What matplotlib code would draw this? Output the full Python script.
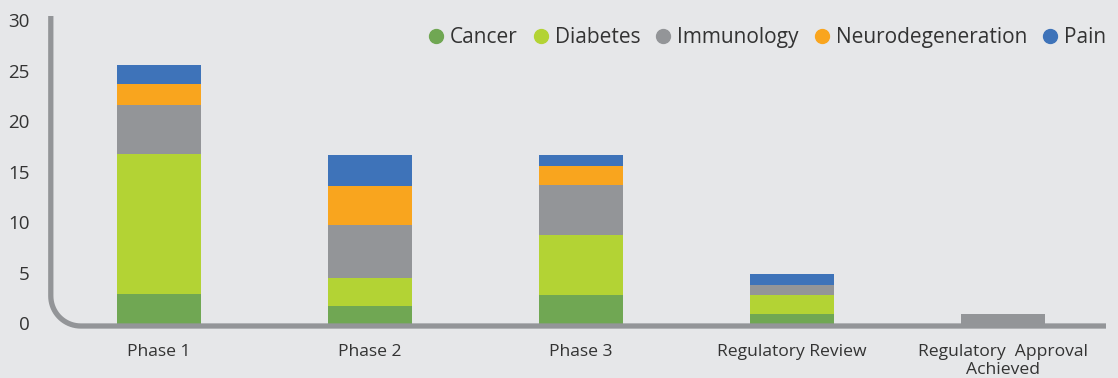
import numpy as np
import matplotlib
matplotlib.use("Agg")
import matplotlib.pyplot as plt
from matplotlib.lines import Line2D

categories = ["Phase 1", "Phase 2", "Phase 3", "Regulatory Review", "Regulatory  Approval\nAchieved"]
series_names = ["Cancer", "Diabetes", "Immunology", "Neurodegeneration", "Pain"]
cancer = [2.9, 1.7, 2.8, 0.95, 0.0]
diabetes = [13.9, 2.8, 5.9, 1.9, 0.0]
immunology = [4.8, 5.2, 5.0, 1.0, 0.95]
neuro = [2.1, 3.9, 1.9, 0.0, 0.0]
pain = [1.9, 3.1, 1.1, 1.0, 0.0]
yticks = [0, 5, 10, 15, 20, 25, 30]

colors = ["#70a753", "#b3d334", "#939598", "#f9a51e", "#3e73b9"]
bg = "#e6e7e9"
font = "Open Sans"

W, H = 1118, 378
fig = plt.figure(figsize=(W / 100, H / 100), dpi=100, facecolor=bg)
ax = fig.add_axes([53.5 / W, 1 - 323.5 / H, (1108.5 - 53.5) / W, (323.5 - 20) / H])
ax.set_facecolor(bg)

x = np.arange(len(categories))
bottom = np.zeros(len(categories))
for vals, c, name in zip([cancer, diabetes, immunology, neuro, pain], colors, series_names):
    ax.bar(x, vals, width=0.4, bottom=bottom, color=c, label=name, zorder=2)
    bottom += np.array(vals)

ax.set_xlim(-0.5, len(categories) - 0.5)
ax.set_ylim(0, 30)
ax.set_yticks(yticks)
ax.set_yticklabels([str(v) for v in yticks], fontsize=13.5, family=font, color="#333333")
ax.set_xticks(x)
ax.set_xticklabels(categories, fontsize=12.6, family=font, color="#333333", linespacing=1.2)
ax.tick_params(axis="y", length=0, pad=17)
ax.tick_params(axis="x", length=0, pad=14.5)
for s in ax.spines.values():
    s.set_visible(False)

# rounded axis line
r = 30
xl, yb = 50.8, 326
pts = [(xl, 16), (xl, yb - r)]
for t in np.linspace(np.pi, 1.5 * np.pi, 20):
    pts.append((xl + r + r * np.cos(t), yb - r - r * np.sin(t)))
pts.append((1106, yb))
px = [p[0] / W for p in pts]
py = [1 - p[1] / H for p in pts]
fig.add_artist(Line2D(px, py, transform=fig.transFigure, color="#939598", lw=3.8,
                      solid_capstyle="butt", zorder=5))

handles = [Line2D([], [], marker="o", ls="", markersize=10, markerfacecolor=c,
                  markeredgecolor=c) for c in colors]
leg = ax.legend(handles, series_names, loc="center right",
                bbox_to_anchor=(1106 / W, 1 - 37.5 / H), bbox_transform=fig.transFigure,
                ncol=5, frameon=False, handletextpad=0.32, columnspacing=0.75,
                handlelength=0.7, borderpad=0, borderaxespad=0,
                prop={"family": font, "size": 15})
for t in leg.get_texts():
    t.set_color("#333333")

fig.savefig("out.png", dpi=100, facecolor=bg)
